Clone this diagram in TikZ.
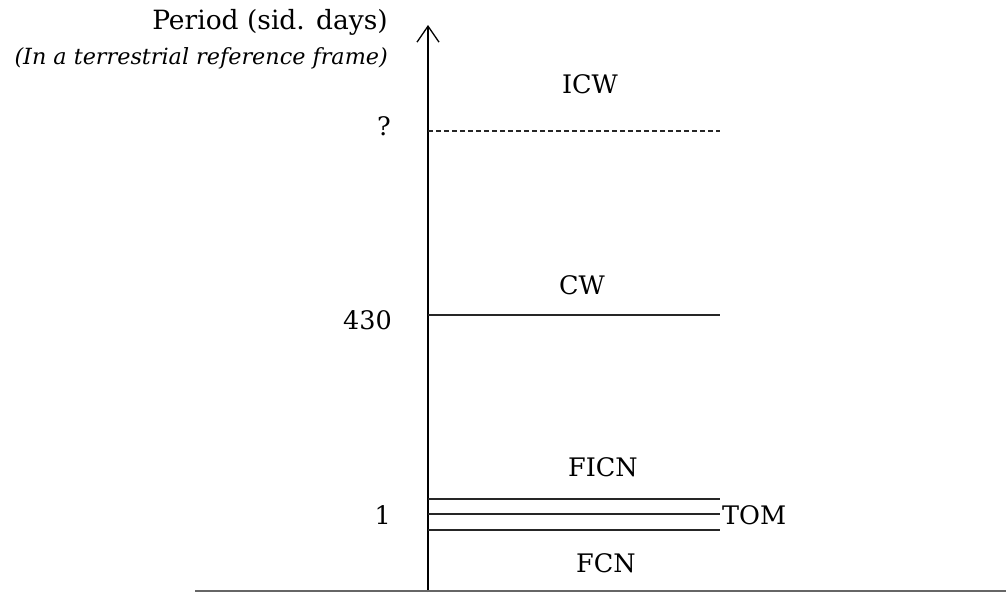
\documentclass[tikz,border=0pt]{standalone}
\usepackage{fontspec}
\setmainfont{DejaVu Serif}
\usetikzlibrary{arrows.meta}
\begin{document}
\begin{tikzpicture}[x=1pt,y=-1pt,
  lvl/.style={line width=1.3pt,draw=black!85},
  lbl/.style={font=\fontsize{25.5}{28}\selectfont,inner sep=0pt},
  axlbl/.style={font=\fontsize{25.5}{28}\selectfont,inner sep=0pt,anchor=east}]
\useasboundingbox (0,0) rectangle (1006,592);
\coordinate (axB) at (428,592);
\coordinate (axT) at (428,25);
\draw[line width=1.3pt,-{Straight Barb[length=16pt,width=22pt,line width=1.3pt]}] (axB) -- (axT);
\coordinate (gL) at (195,591);
\coordinate (gR) at (1006,591);
\draw[line width=1.8pt,draw=black!60] (gL) -- (gR);
% levels
\coordinate (qL) at (428,131); \coordinate (qR) at (720,131);
\draw[lvl,dashed,dash pattern=on 5pt off 3pt] (qL) -- (qR);
\coordinate (cL) at (428,315); \coordinate (cR) at (720,315);
\draw[lvl] (cL) -- (cR);
\coordinate (f1L) at (428,499); \coordinate (f1R) at (720,499);
\coordinate (f2L) at (428,514); \coordinate (f2R) at (720,514);
\coordinate (f3L) at (428,530); \coordinate (f3R) at (720,530);
\draw[lvl] (f1L) -- (f1R);
\draw[lvl] (f2L) -- (f2R);
\draw[lvl] (f3L) -- (f3R);
% labels
\node[axlbl,font=\fontsize{26.5}{29}\selectfont] (title) at (388,22) {Period (sid. days)};
\node[axlbl,font=\fontsize{22.3}{25}\selectfont\itshape] (sub) at (388,58) {(In a terrestrial reference frame)};
\node[axlbl] (q) at (391,126) {?};
\node[axlbl] (n430) at (392,320) {430};
\node[axlbl] (n1) at (391,515) {1};
\node[lbl] (icw) at (590,84) {ICW};
\node[lbl] (cw) at (582,285) {CW};
\node[lbl] (ficn) at (603,467) {FICN};
\node[lbl] (fcn) at (606,563) {FCN};
\node[lbl,anchor=west] (tom) at (722,515) {TOM};
\end{tikzpicture}
\end{document}
